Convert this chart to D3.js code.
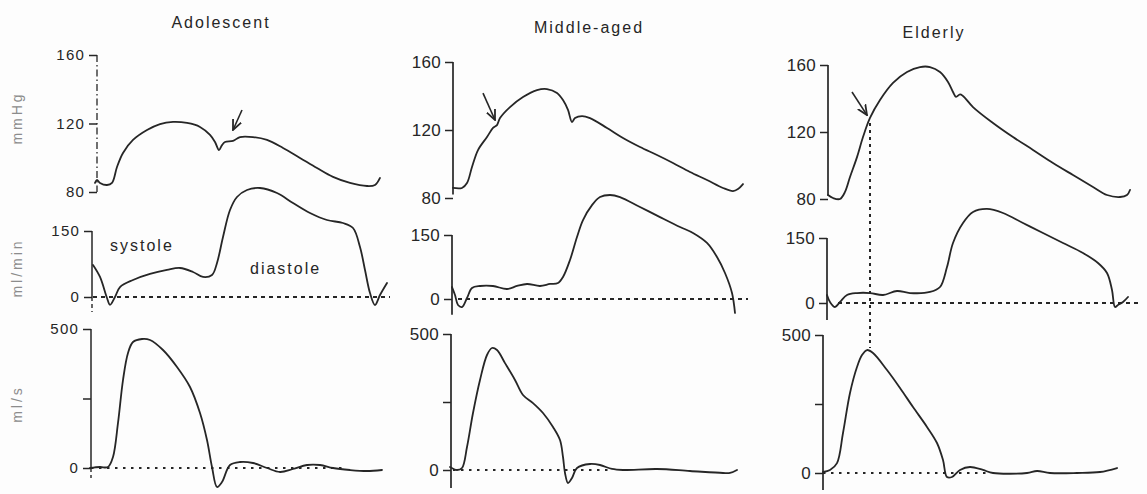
<!DOCTYPE html>
<html><head><meta charset="utf-8">
<script src="https://cdn.jsdelivr.net/npm/d3@7"></script>
<style>body{margin:0;background:#fff}svg{display:block}</style>
</head><body><svg id="c" width="1147" height="494"></svg>
<script>
// ---------- data ----------
const columns = ["Adolescent", "Middle-aged", "Elderly"];
const unitLabels = ["mmHg", "ml/min", "ml/s"];
const pressureTicks = [80, 120, 160];
const flowTicks = [0, 150];
const velocityTicks = [0, 250, 500];
const velocityTickLabels = ["0", "", "500"];

// time (arbitrary units from panel axis), value
const adolescentPressure = [[1,85.3],[3,87],[6,85.3],[13,84.1],[18,85.3],[23,94.6],[29,102.8],[39,110.4],[53,116.2],[66,119.7],[79,120.9],[93,120.3],[106,118],[116,113.3],[121,109.2],[125,104.5],[128,107.4],[131,109.2],[139,109.8],[146,112.1],[159,112.1],[173,110.4],[189,105.7],[206,99.9],[223,94],[239,88.8],[256,85.3],[273,83.5],[281,84.1],[286,88.2]];
const adolescentFlow = [[-1,72.7],[6,45.5],[13,-2.3],[16,-18],[21,0],[26,22.7],[39,38.6],[56,52.3],[73,61.4],[86,65.9],[99,56.8],[109,45.5],[118,50],[123,77.3],[129,136.4],[136,197.7],[143,227.3],[153,243.2],[166,247.7],[183,236.4],[199,213.6],[216,190.9],[233,175],[249,168.2],[259,156.8],[266,113.6],[271,61.4],[276,9.1],[281,-18.2],[286,4.5],[293,31.8]];
const adolescentVelocity = [[-4,0],[6,3.6],[14,3.6],[19,39.6],[24,161.9],[29,316.5],[34,413.7],[39,453.2],[48,464],[56,460.4],[69,424.4],[83,363.3],[96,291.4],[106,197.8],[113,100.7],[118,3.6],[123,-68.3],[128,-50.4],[136,10.8],[146,21.6],[159,18],[173,0],[186,-14.4],[199,-3.6],[213,10.8],[226,10.8],[239,0],[256,-7.2],[273,-10.8],[288,-7.2]];

const middlePressure = [[0,85.9],[9,85.9],[14,88.8],[19,98.2],[25,108.2],[34,115.9],[40,121.2],[44,122.9],[47,127],[57,133.5],[70,139.4],[84,143.5],[94,144.1],[104,141.8],[110,137.6],[115,131.8],[119,124.7],[122,127],[129,128.2],[137,127],[154,121.2],[170,115.3],[187,110],[204,105.3],[220,100.6],[237,95.3],[254,90.6],[270,85.9],[280,84.1],[285,85.3],[290,88.2]];
const middleFlow = [[-1,28],[2,9.4],[5,-14],[9,-18.8],[14,2.3],[19,25.8],[27,30.5],[40,30.5],[54,23.4],[64,30.5],[74,35.2],[87,30.5],[97,35.2],[105,37.5],[110,51.6],[117,91.4],[124,145.3],[130,185],[139,220],[147,239],[157,243.8],[167,239],[187,215.6],[207,192],[227,168.8],[240,154.7],[254,131.3],[264,98.4],[272,60.9],[279,14],[282,-32.8]];
const middleVelocity = [[-3,11],[4,0],[9,7.4],[14,84.6],[20,209.5],[27,330.9],[34,422.8],[39,448.5],[44,441],[52,393],[62,331],[70,275.7],[80,246],[90,209.5],[100,158],[107,110],[110,47.8],[112,-11],[115,-47.8],[119,-29.4],[124,7.4],[137,22],[147,18.4],[159,3.7],[170,0],[204,3.7],[237,-3.7],[270,-11],[277,-11],[284,0]];

const elderlyPressure = [[0,82.4],[5,80.6],[12,80],[17,84.2],[22,93.1],[29,105],[35,117],[42,128.4],[52,139.1],[65,149.3],[79,155.8],[92,158.8],[102,158.8],[112,155.8],[120,149.9],[125,143.9],[128,141],[132,142.5],[135,141.5],[145,134.9],[165,125.4],[185,117],[205,109.3],[225,101.5],[245,94.3],[265,87.2],[279,82.4],[292,81.2],[299,82.4],[302,85.4]];
const elderlyFlow = [[-1,18.5],[2,2.3],[7,-9.2],[12,2.3],[19,18.5],[29,23],[42,23],[55,18.5],[69,27.7],[82,23],[102,25.4],[112,36.9],[119,83],[125,138.5],[135,184.6],[145,210],[159,217],[175,207.7],[195,184.6],[215,161.5],[235,138.5],[255,115.4],[270,92.3],[279,69.2],[284,30],[287,-9.2],[290,-4.6],[295,2.3],[300,13.8]];
const elderlyVelocity = [[-5,3.6],[2,10.9],[9,36],[15,145],[22,290],[29,384],[34,427.5],[39,445.6],[45,434.8],[59,373],[72,308],[85,239],[99,167],[109,108.7],[115,47],[119,-14.5],[124,-14.5],[132,10.9],[142,21.7],[155,10.9],[165,0],[199,0],[209,7.2],[222,0],[249,0],[272,3.6],[289,18]];

// arrows: [tail, tip] in (time, mmHg)
const adolescentArrow = [[148,127.9],[139,116.2]];
const middleArrow = [[30,141.7],[42,125.9]];
const elderlyArrow = [[24,143.9],[39,130.1]];
// elderly vertical guide: time, pressure top, velocity bottom
const elderlyGuide = [42, 125.4, 453];
// phase labels in adolescent flow panel: [time, ml/min]
const phaseLabels = [["systole", 16, 118], ["diastole", 156, 66]];

// ---------- layout ----------
const layout = [
  {x0:94, title:[221,22], fs:15, ls:1.2, axisDx:{P:3,F:-2,V:-3}, y:{P:[192,55],F:[297,231],V:[468,329]},
   bottom:{P:80,F:-34,V:-36}, zero:{F:[-1,296],V:[-3,251]}, dashAxis:true},
  {x0:453, title:[589,27], fs:17, ls:0.3, axisDx:{P:0,F:-1,V:-2}, y:{P:[198,62],F:[299,235],V:[470,334]},
   bottom:{P:82,F:-37,V:-66}, zero:{F:[5,295],V:[0,157]}},
  {x0:828, title:[934,32], fs:17, ls:0.3, axisDx:{P:0,F:-1,V:-5}, y:{P:[199,65],F:[303,238],V:[473,335]},
   bottom:{P:82,F:-39,V:-62}, zero:{F:[10,310],V:[-5,159]}}
];
const seriesByCol = [
  {P:adolescentPressure, F:adolescentFlow, V:adolescentVelocity, arrow:adolescentArrow},
  {P:middlePressure, F:middleFlow, V:middleVelocity, arrow:middleArrow},
  {P:elderlyPressure, F:elderlyFlow, V:elderlyVelocity, arrow:elderlyArrow}
];
const domains = {P:[80,160], F:[0,150], V:[0,500]};
const ticks = {P:pressureTicks, F:flowTicks, V:velocityTicks};

const ink = "#262626";
const font = "'Liberation Sans', Arial, sans-serif";
const svg = d3.select("#c");
svg.append("rect").attr("width",1147).attr("height",494).attr("fill","#fdfdfd");
svg.append("defs").append("marker").attr("id","ah").attr("viewBox","0 0 10 10")
  .attr("refX",9).attr("refY",5).attr("markerWidth",7).attr("markerHeight",7).attr("orient","auto")
  .append("path").attr("d","M0,1 L9,5 L0,9").attr("fill","none").attr("stroke",ink).attr("stroke-width",1.6);

// unit labels
const unitY = [118, 268, 404];
unitLabels.forEach((u,i)=>{
  svg.append("text").attr("transform",`translate(22,${unitY[i]}) rotate(-90)`)
    .attr("text-anchor","middle").attr("font-family",font).attr("font-size",14)
    .attr("letter-spacing",3).attr("fill","#8c8c8c").text(u);
});

columns.forEach((name,ci)=>{
  const L = layout[ci], S = seriesByCol[ci];
  const x = d3.scaleLinear().domain([0,300]).range([L.x0, L.x0+300]);
  const g = svg.append("g");
  g.append("text").attr("x",L.title[0]).attr("y",L.title[1]).attr("dy","0.35em")
    .attr("text-anchor","middle").attr("font-family",font).attr("font-size",16)
    .attr("letter-spacing",2).attr("fill",ink).text(name);

  const ys = {};
  ["P","F","V"].forEach(k=>{
    const y = d3.scaleLinear().domain(domains[k]).range(L.y[k]);
    ys[k]=y;
    const ax = x(L.axisDx[k]);
    const axis = d3.axisLeft(y).tickValues(ticks[k]).tickSize(8).tickPadding(4)
      .tickFormat(k==="V" ? (d,i)=>velocityTickLabels[i] : d3.format("d"));
    const ag = g.append("g").attr("transform",`translate(${ax},0)`).call(axis);
    ag.select(".domain").remove();
    ag.selectAll("line").attr("stroke",ink).attr("stroke-width",1.5);
    ag.selectAll("text").attr("font-family",font).attr("font-size",L.fs)
      .attr("letter-spacing",L.ls).attr("fill",ink);
    const top = d3.max(ticks[k]);
    if (L.dashAxis && k==="P") {
      ag.append("line").attr("y1",y(top)).attr("y2",y(L.bottom[k]))
        .attr("stroke",ink).attr("stroke-width",1.3).attr("stroke-dasharray","7,3,1.5,3");
    } else if (L.dashAxis) {
      ag.append("line").attr("y1",y(top)).attr("y2",y(0)).attr("stroke",ink).attr("stroke-width",1.5);
      ag.append("line").attr("y1",y(0)).attr("y2",y(L.bottom[k])).attr("stroke",ink)
        .attr("stroke-width",1.4).attr("stroke-dasharray","4,3");
    } else {
      ag.append("line").attr("y1",y(top)).attr("y2",y(L.bottom[k])).attr("stroke",ink).attr("stroke-width",1.7);
    }
    // zero reference lines
    if (k!=="P") {
      const z = L.zero[k];
      g.append("line").attr("x1",x(z[0])).attr("x2",x(z[1])).attr("y1",y(0)).attr("y2",y(0))
        .attr("stroke",ink).attr("stroke-width",k==="F"?2:1.8)
        .attr("stroke-dasharray",k==="F"?"4,4":"2.5,5.5");
    }
    const line = d3.line().x(d=>x(d[0])).y(d=>y(d[1])).curve(d3.curveCatmullRom.alpha(0.5));
    g.append("path").attr("d",line(S[k])).attr("fill","none").attr("stroke",ink)
      .attr("stroke-width",1.8).attr("stroke-linejoin","round").attr("stroke-linecap","round");
  });

  // arrow
  g.append("line").attr("x1",x(S.arrow[0][0])).attr("y1",ys.P(S.arrow[0][1]))
    .attr("x2",x(S.arrow[1][0])).attr("y2",ys.P(S.arrow[1][1]))
    .attr("stroke",ink).attr("stroke-width",1.6).attr("marker-end","url(#ah)");

  if (ci===0) {
    phaseLabels.forEach(p=>{
      g.append("text").attr("x",x(p[1])).attr("y",ys.F(p[2])).attr("dy","0.35em")
        .attr("font-family",font).attr("font-size",16).attr("letter-spacing",2).attr("fill",ink).text(p[0]);
    });
  }
  if (ci===2) {
    g.append("line").attr("x1",x(elderlyGuide[0])).attr("x2",x(elderlyGuide[0]))
      .attr("y1",ys.P(elderlyGuide[1])).attr("y2",ys.V(elderlyGuide[2]))
      .attr("stroke",ink).attr("stroke-width",2).attr("stroke-dasharray","3,4");
  }
});
</script></body></html>
